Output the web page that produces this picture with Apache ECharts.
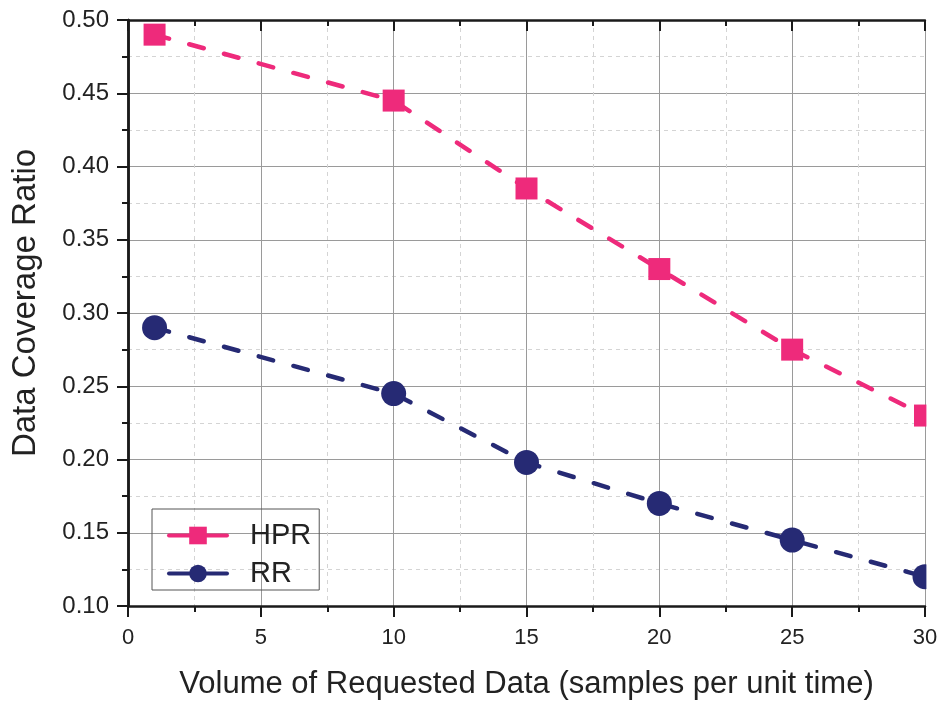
<!DOCTYPE html>
<html>
<head>
<meta charset="utf-8">
<script src="https://cdn.jsdelivr.net/npm/echarts@6/dist/echarts.min.js"></script>
<style>
  html, body { margin: 0; padding: 0; background: #fff; }
  #chart { width: 950px; height: 705px; }
</style>
</head>
<body>
<div id="chart"></div>
<script>
// Volume of requested data (x) and coverage ratio for each scheduling scheme
const volumes = [1, 10, 15, 20, 25, 30];
const hprValues = [0.49, 0.445, 0.385, 0.33, 0.275, 0.23];
const rrValues = [0.29, 0.245, 0.198, 0.17, 0.145, 0.12];
const seriesNames = ['HPR', 'RR'];
const xTitle = 'Volume of Requested Data (samples per unit time)';
const yTitle = 'Data Coverage Ratio';

const FONT = '"Liberation Sans", Arial, sans-serif';
const PINK = '#EE2A7B';
const NAVY = '#262A74';
const INK = '#1a1a1a';

const GRID = { left: 128, right: 25, top: 20, bottom: 95 };

const chart = echarts.init(document.getElementById('chart'), null, { renderer: 'canvas' });

function pairs(xs, ys) { return xs.map((x, i) => [x, ys[i]]); }

const axisLineStyle = { show: true, lineStyle: { color: INK, width: 2.5 } };
const tickStyle = { color: INK, width: 2 };

chart.setOption({
  animation: false,
  backgroundColor: '#fff',
  grid: Object.assign({ containLabel: false }, GRID),
  // white strip beyond the right frame so markers sitting on the edge are cut by the frame
  graphic: [{
    type: 'rect', z: 100, silent: true,
    shape: { x: 950 - GRID.right + 1.4, y: 0, width: GRID.right, height: 705 - GRID.bottom - 4 },
    style: { fill: '#fff' }
  }],
  legend: {
    left: 152, top: 509,
    orient: 'vertical',
    itemWidth: 58, itemHeight: 22, itemGap: 9,
    padding: [12, 8, 2, 15],
    borderColor: '#555', borderWidth: 1,
    textStyle: { fontFamily: FONT, fontSize: 29, color: '#222', padding: [0, 0, 0, 18] },
    lineStyle: { type: 'solid', width: 4 },
    data: seriesNames
  },
  xAxis: [{
    type: 'value', min: 0, max: 30, interval: 5,
    name: xTitle, nameLocation: 'middle', nameGap: 63,
    nameTextStyle: { fontFamily: FONT, fontSize: 31, color: '#222' },
    axisLine: axisLineStyle,
    axisTick: { show: true, inside: false, length: 11, lineStyle: tickStyle },
    minorTick: { show: true, splitNumber: 2, length: 6, lineStyle: tickStyle },
    axisLabel: { fontFamily: FONT, fontSize: 22, color: '#222', margin: 21 },
    splitLine: { show: true, lineStyle: { color: '#9a9a9a', width: 1 } },
    minorSplitLine: { show: true, lineStyle: { color: '#d4d4d4', width: 1, type: [4, 4] } }
  }, {
    type: 'value', min: 0, max: 30, interval: 5, position: 'top',
    axisLine: axisLineStyle,
    axisTick: { show: true, inside: true, length: 11, lineStyle: tickStyle },
    minorTick: { show: true, splitNumber: 2, length: 6, lineStyle: tickStyle },
    axisLabel: { show: false },
    splitLine: { show: false }
  }],
  yAxis: [{
    type: 'value', min: 0.10, max: 0.50, interval: 0.05,
    name: yTitle, nameLocation: 'middle', nameGap: 86,
    nameTextStyle: { fontFamily: FONT, fontSize: 33, color: '#222', padding: [0, 0, 0, 20] },
    axisLine: axisLineStyle,
    axisTick: { show: true, inside: false, length: 11, lineStyle: tickStyle },
    minorTick: { show: true, splitNumber: 2, length: 6, lineStyle: tickStyle },
    axisLabel: { fontFamily: FONT, fontSize: 24, color: '#222', margin: 19, formatter: v => v.toFixed(2) },
    splitLine: { show: true, lineStyle: { color: '#9a9a9a', width: 1 } },
    minorSplitLine: { show: true, lineStyle: { color: '#d4d4d4', width: 1, type: [4, 4] } }
  }, {
    type: 'value', min: 0.10, max: 0.50, interval: 0.05, position: 'right',
    axisLine: axisLineStyle,
    axisTick: { show: true, inside: true, length: 11, lineStyle: tickStyle },
    minorTick: { show: true, splitNumber: 2, length: 6, lineStyle: tickStyle },
    axisLabel: { show: false },
    splitLine: { show: false }
  }],
  series: [{
    name: seriesNames[0], type: 'line', clip: true,
    data: pairs(volumes, hprValues),
    symbol: 'rect', symbolSize: 22,
    itemStyle: { color: PINK },
    lineStyle: { color: PINK, width: 4.5, type: [15, 21], cap: 'round' },
    z: 3
  }, {
    name: seriesNames[1], type: 'line', clip: true,
    data: pairs(volumes, rrValues),
    symbol: 'circle', symbolSize: 25,
    itemStyle: { color: NAVY },
    lineStyle: { color: NAVY, width: 4.5, type: [15, 21], cap: 'round' },
    z: 3
  }]
});
</script>
</body>
</html>
